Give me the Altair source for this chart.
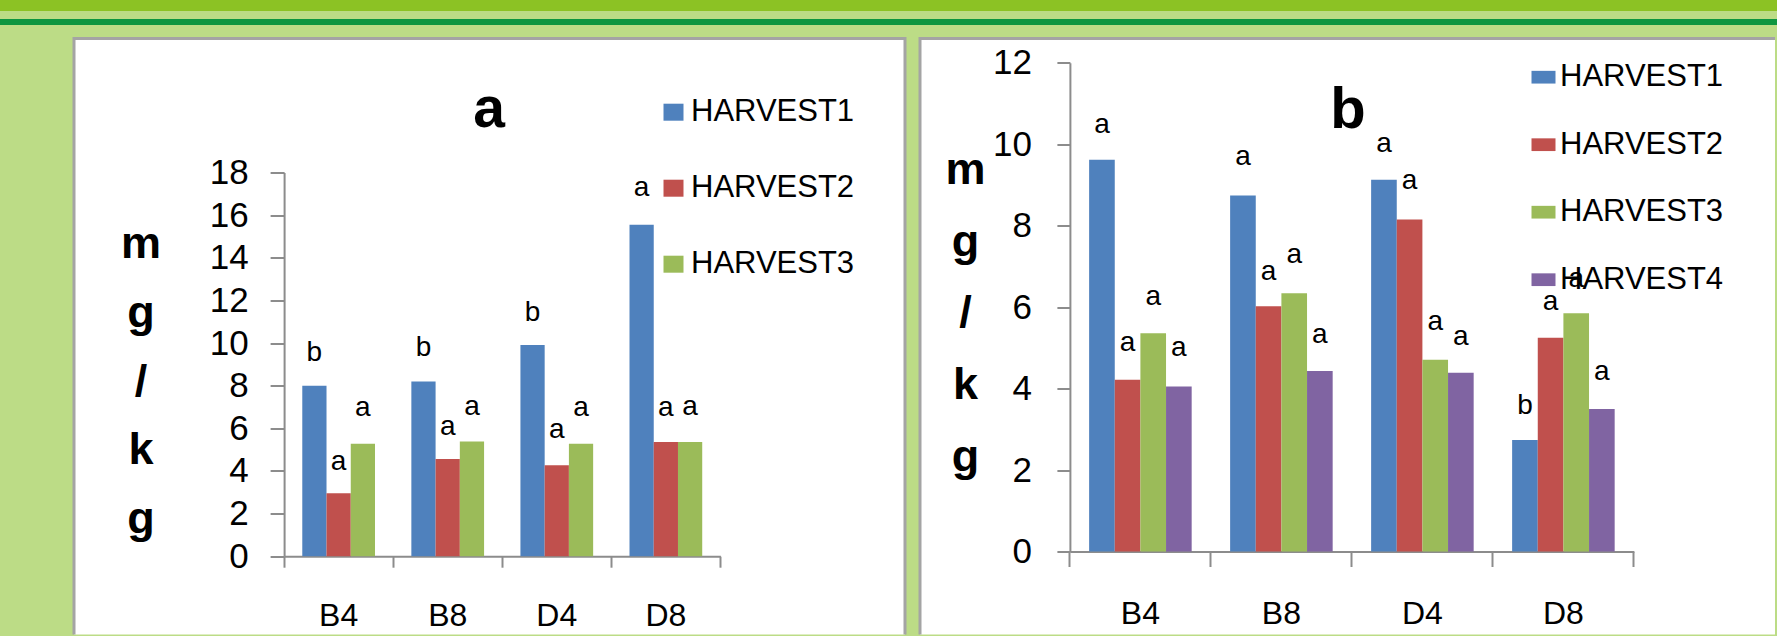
import altair as alt
import pandas as pd

# ---- data -------------------------------------------------------------
categories = ["B4", "B8", "D4", "D8"]

left_series = ["HARVEST1", "HARVEST2", "HARVEST3"]
left_values = {
    "HARVEST1": [8.0, 8.19, 9.91, 15.55],
    "HARVEST2": [2.95, 4.56, 4.27, 5.36],
    "HARVEST3": [5.27, 5.38, 5.27, 5.36],
}
left_letters = {
    "HARVEST1": ["b", "b", "b", "a"],
    "HARVEST2": ["a", "a", "a", "a"],
    "HARVEST3": ["a", "a", "a", "a"],
}
# height (in mg/kg) at which each significance letter sits
left_letter_y = {
    "HARVEST1": [9.17, 9.41, 11.05, 16.89],
    "HARVEST2": [4.06, 5.70, 5.54, 6.57],
    "HARVEST3": [6.56, 6.63, 6.57, 6.62],
}
left_ticks = [0, 2, 4, 6, 8, 10, 12, 14, 16, 18]

right_series = ["HARVEST1", "HARVEST2", "HARVEST3", "HARVEST4"]
right_values = {
    "HARVEST1": [9.62, 8.74, 9.13, 2.74],
    "HARVEST2": [4.22, 6.02, 8.15, 5.25],
    "HARVEST3": [5.36, 6.34, 4.71, 5.85],
    "HARVEST4": [4.05, 4.43, 4.39, 3.50],
}
right_letters = {
    "HARVEST1": ["a", "a", "a", "b"],
    "HARVEST2": ["a", "a", "a", "a"],
    "HARVEST3": ["a", "a", "a", "a"],
    "HARVEST4": ["a", "a", "a", "a"],
}
right_letter_y = {
    "HARVEST1": [10.28, 9.50, 9.81, 3.38],
    "HARVEST2": [4.93, 6.67, 8.89, 5.94],
    "HARVEST3": [6.06, 7.08, 5.45, 6.50],
    "HARVEST4": [4.79, 5.12, 5.06, 4.22],
}
right_ticks = [0, 2, 4, 6, 8, 10, 12]

y_title = ["m", "g", "/", "k", "g"]
series_colors = ["#4f81bd", "#c0504d", "#9bbb59", "#8064a2"]

# ---- style --------------------------------------------------------------
FONT = "Liberation Sans, Arial, sans-serif"
AXIS_GREY = "#8c8c8c"
BORDER = "#a4a4a4"
BRIGHT_GREEN = "#8cc224"
LIGHT_GREEN = "#bcdc86"
DARK_GREEN = "#0e9640"
PAGE_W = 1777


def long_table(series, values, letters, letter_y):
    rows = []
    for s in series:
        for i, c in enumerate(categories):
            rows.append({"cat": c, "series": s, "value": values[s][i],
                         "letter": letters[s][i], "ly": letter_y[s][i]})
    return pd.DataFrame(rows)


def panel(series, values, letters, letter_y, ticks, title_text, g):
    df = long_table(series, values, letters, letter_y)

    x_scale = alt.Scale(domain=categories, range=g["x_range"],
                        paddingInner=0, paddingOuter=0)
    xo_scale = alt.Scale(domain=series, paddingInner=0, paddingOuter=0.75)
    y_scale = alt.Scale(domain=[0, ticks[-1]], range=g["y_range"], nice=False)
    c_scale = alt.Scale(domain=series, range=series_colors[:len(series)])

    y_axis = alt.Axis(
        values=ticks, offset=g["y_off"], grid=False,
        domainColor=AXIS_GREY, domainWidth=2, tickColor=AXIS_GREY, tickWidth=2,
        tickSize=g["y_tick"], labelPadding=g["y_lpad"],
        labelFont=FONT, labelFontSize=35, labelColor="black",
        titleAngle=0, titleAlign="center", titleBaseline="alphabetic",
        titleX=g["tx"], titleY=g["ty"], titleLineHeight=g["tlh"],
        titleFont=FONT, titleFontSize=45, titleFontWeight="bold",
        titleColor="black",
    )
    x_axis = alt.Axis(
        title=None, grid=False, orient="bottom", offset=g["x_off"],
        bandPosition=0, labelAngle=0,
        domainColor=AXIS_GREY, domainWidth=2, tickColor=AXIS_GREY, tickWidth=2,
        tickSize=g["x_tick"], labelPadding=g["x_lpad"],
        labelFont=FONT, labelFontSize=32, labelColor="black",
    )
    # closing tick at the right end of the category axis
    end_axis = alt.Axis(
        title=None, grid=False, orient="bottom", offset=g["x_off"],
        values=[categories[-1]], bandPosition=1, labels=False, domain=False,
        tickColor=AXIS_GREY, tickWidth=2, tickSize=g["x_tick"],
    )

    base = alt.Chart(df)
    bars = base.mark_bar().encode(
        x=alt.X("cat:N", scale=x_scale, sort=categories, axis=x_axis),
        xOffset=alt.XOffset("series:N", scale=xo_scale, sort=series),
        y=alt.Y("value:Q", scale=y_scale, axis=y_axis, title=y_title),
        color=alt.Color(
            "series:N", scale=c_scale, sort=series,
            legend=alt.Legend(
                orient="none", legendX=g["lx"], legendY=g["ly"], title=None,
                direction="vertical", padding=0,
                symbolType=g["sym_path"], symbolSize=g["sym"],
                symbolStrokeWidth=0, symbolOpacity=1,
                labelFont=FONT, labelFontSize=31, labelColor="black",
                labelOffset=g["loff"], labelLimit=400, rowPadding=g["rpad"],
            ),
        ),
    )
    text = base.mark_text(baseline="alphabetic", align="center", font=FONT,
                          fontSize=28, color="black").encode(
        x=alt.X("cat:N", scale=x_scale, sort=categories, axis=end_axis),
        xOffset=alt.XOffset("series:N", scale=xo_scale, sort=series),
        y=alt.Y("ly:Q", scale=y_scale, axis=y_axis, title=y_title),
        text="letter:N",
    )
    return (
        alt.layer(bars, text)
        .resolve_axis(x="independent")
        .properties(
            width=g["w"], height=g["h"],
            title=alt.TitleParams(
                text=title_text, anchor="start", align="center", frame="group",
                dx=g["title_dx"], offset=-g["title_base"],
                baseline="alphabetic", font=FONT, fontSize=g["title_size"],
                fontWeight="bold", color="black",
            ),
            view=alt.ViewBackground(fill="white", stroke=BORDER, strokeWidth=3,
                                    strokeDash=g["dash"]),
        )
    )


PANEL_H = 596
LEFT_W = 831
RIGHT_W = 855

left_geom = dict(
    w=LEFT_W, h=PANEL_H, dash=[LEFT_W + PANEL_H, LEFT_W, PANEL_H],
    x_range=[210.1, 646.4], y_range=[517.7, 134.0],
    y_off=-210.1, x_off=-(PANEL_H - 517.7),
    y_tick=14, y_lpad=22, x_tick=11, x_lpad=33,
    tx=-143.5, ty=219, tlh=68.8,
    lx=584, ly=58.2, sym=400, sym_path="M-1,-0.85H1V0.85H-1Z",
    loff=2, rpad=44,
    title_dx=415, title_base=145, title_size=57,
)
right_geom = dict(
    w=RIGHT_W, h=PANEL_H, dash=[RIGHT_W, RIGHT_W + PANEL_H, PANEL_H],
    x_range=[149.9, 713.9], y_range=[513.0, 24.3],
    y_off=-149.9, x_off=-(PANEL_H - 513.0),
    y_tick=13, y_lpad=25.5, x_tick=15, x_lpad=32,
    tx=-104.9, ty=145, tlh=71.7,
    lx=608, ly=23.2, sym=576, sym_path="M-1,-0.53H1V0.53H-1Z",
    loff=1, rpad=35.5,
    title_dx=428, title_base=147, title_size=58,
)

left = panel(left_series, left_values, left_letters, left_letter_y,
             left_ticks, "a", left_geom)
right = panel(right_series, right_values, right_letters, right_letter_y,
              right_ticks, "b", right_geom)


def band_strip(height, color, width=PAGE_W):
    return alt.Chart(pd.DataFrame({"k": [0]})).mark_point(
        opacity=0, size=1
    ).properties(
        width=width, height=height,
        view=alt.ViewBackground(fill=color, stroke="transparent", strokeWidth=0),
    )


header = alt.vconcat(band_strip(11, BRIGHT_GREEN), band_strip(6, DARK_GREEN),
                     spacing=8)
spacer = band_strip(PANEL_H, "transparent", width=59)
panels = (
    alt.hconcat(spacer, left, right, spacing=15, bounds="flush")
    .resolve_scale(color="independent", xOffset="independent")
    .resolve_legend(color="independent")
)

chart = (
    alt.vconcat(header, panels, spacing=11.5)
    .configure(background=LIGHT_GREEN, padding=0)
    .configure_view(stroke="transparent")
)

chart.save("out.html", embed_options={"renderer": "svg", "actions": False})
